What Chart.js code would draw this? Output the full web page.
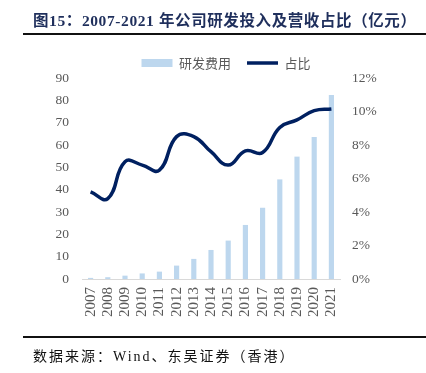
<!DOCTYPE html>
<html>
<head>
<meta charset="utf-8">
<script src="https://cdn.jsdelivr.net/npm/chart.js@4"></script>
<style>
  html, body { margin: 0; padding: 0; background: #fff; }
  #wrap { position: relative; width: 426px; height: 373px; overflow: hidden; }
  #chart { position: absolute; left: 0; top: 0; }
  .title {
    position: absolute; left: 33px; top: 8px;
    font: bold 15.5px "Liberation Serif", "Noto Sans CJK SC", serif;
    letter-spacing: 0.6px;
    color: #1f2f5c; white-space: nowrap;
  }
  .rule { position: absolute; left: 23px; width: 403px; height: 2px; background: #111; }
  .source {
    position: absolute; left: 33px; top: 345px;
    font: 14px "Liberation Serif", "Noto Sans CJK SC", serif;
    letter-spacing: 2px;
    color: #111; white-space: nowrap;
  }
</style>
</head>
<body>
<div id="wrap">
  <canvas id="chart" width="426" height="373"></canvas>
  <div class="title">图15：2007-2021 年公司研发投入及营收占比（亿元）</div>
  <div class="rule" style="top:33px"></div>
  <div class="rule" style="top:336px"></div>
  <div class="source">数据来源：Wind、东吴证券（香港）</div>
</div>
<script>
const YEARS = ['2007', '2008', '2009', '2010', '2011', '2012', '2013', '2014',
  '2015', '2016', '2017', '2018', '2019', '2020', '2021']
// 研发费用, 亿元
const RD_COST = [0.5, 0.8, 1.5, 2.5, 3.3, 6.0, 9.0, 13.0, 17.2, 24.2, 31.9, 44.6, 54.8, 63.6, 82.4]
// 占比, %
const RD_RATIO = [5.2, 4.8, 7.0, 6.8, 6.5, 8.5, 8.5, 7.6, 6.8, 7.65, 7.55, 9.05, 9.5, 10.05, 10.15]
const LEFT_TICKS = [0, 10, 20, 30, 40, 50, 60, 70, 80, 90]

const TICK_COLOR = '#595959'
const tickFont = {family: '"Liberation Serif", serif', size: 13.5}

// keep the legend block a fixed height so the plot starts where the reference does
const legendHeight = {
  id: 'legendHeight',
  beforeInit(chart) {
    const fit = chart.legend.fit
    chart.legend.fit = function () {
      fit.bind(chart.legend)()
      this.height = 37.5
    }
  },
}

const ctx = document.getElementById('chart').getContext('2d')
new Chart(ctx, {
  data: {
    labels: YEARS,
    datasets: [
      {
        type: 'line',
        label: '占比',
        data: RD_RATIO,
        yAxisID: 'y1',
        borderColor: '#002060',
        backgroundColor: '#002060',
        borderWidth: 3.5,
        tension: 0.45,
        pointRadius: 0,
        pointStyle: 'line',
        order: 0,
      },
      {
        type: 'bar',
        label: '研发费用',
        data: RD_COST,
        yAxisID: 'y',
        backgroundColor: '#bdd7ee',
        borderWidth: 0,
        categoryPercentage: 1,
        barPercentage: 0.3,
        pointStyle: 'rect',
        order: 1,
      },
    ],
  },
  options: {
    responsive: false,
    animation: false,
    layout: {padding: {top: 40.5, bottom: 0, left: 26, right: 0}},
    plugins: {
      legend: {
        position: 'top',
        reverse: true,
        labels: {
          usePointStyle: true,
          pointStyleWidth: 31,
          boxHeight: 8,
          padding: 16,
          color: TICK_COLOR,
          font: {family: '"Noto Sans CJK SC", sans-serif', size: 13},
        },
      },
      tooltip: {enabled: false},
    },
    scales: {
      x: {
        grid: {display: false},
        border: {display: true, color: '#d9d9d9', width: 1},
        ticks: {
          color: TICK_COLOR,
          font: {family: '"Liberation Serif", serif', size: 15},
          autoSkip: false,
          minRotation: 90,
          maxRotation: 90,
          padding: 0,
        },
        afterFit: scale => { scale.height = 373 - 279 },
      },
      y: {
        position: 'left',
        min: 0,
        max: 90,
        grid: {display: false},
        border: {display: false},
        afterBuildTicks: scale => { scale.ticks = LEFT_TICKS.map(v => ({value: v})) },
        ticks: {color: TICK_COLOR, font: tickFont, padding: 5},
        afterFit: scale => { scale.width = 82 - 26 },
      },
      y1: {
        position: 'right',
        min: 0,
        max: 12,
        grid: {display: false},
        border: {display: false},
        ticks: {
          stepSize: 2,
          color: TICK_COLOR,
          font: tickFont,
          padding: 4,
          callback: v => v + '%',
        },
        afterFit: scale => { scale.width = 426 - 340 },
      },
    },
  },
  plugins: [legendHeight],
})
</script>
</body>
</html>
